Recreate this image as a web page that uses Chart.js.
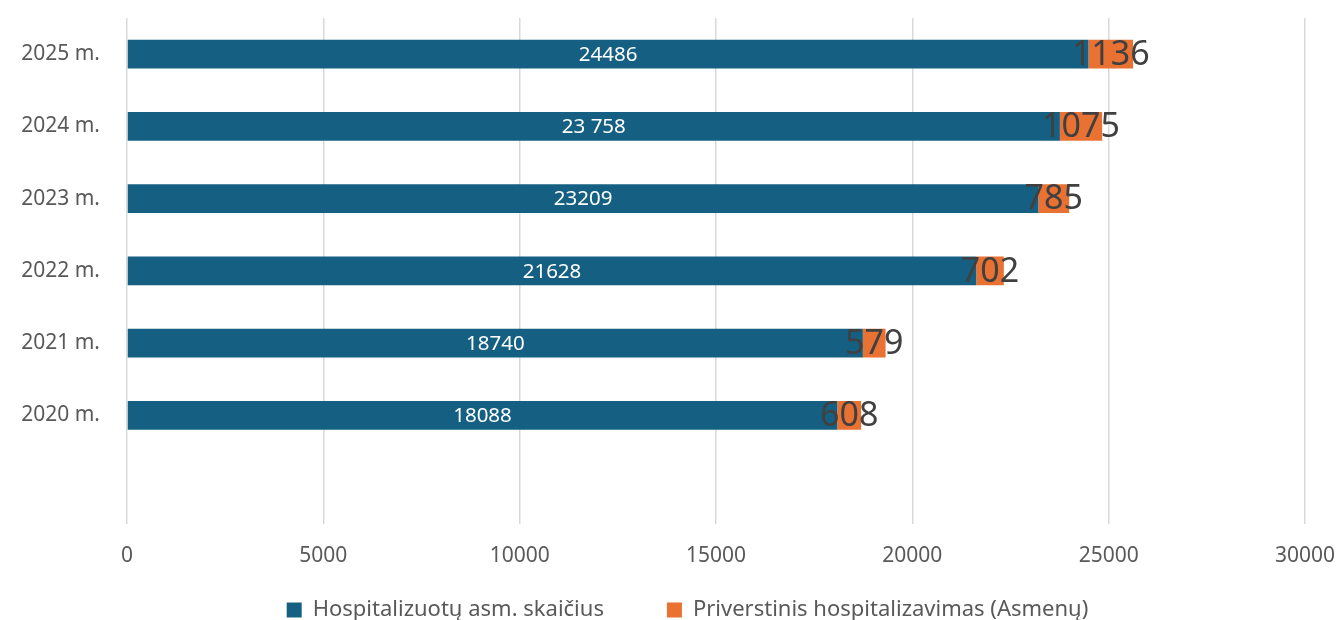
<!DOCTYPE html>
<html>
<head>
<meta charset="utf-8">
<script src="https://cdn.jsdelivr.net/npm/chart.js@4"></script>
<style>
  html, body { margin: 0; padding: 0; background: #fff; }
  #wrap { width: 1340px; height: 620px; }
</style>
</head>
<body>
<div id="wrap"><canvas id="chart" width="1340" height="620"></canvas></div>
<script>
/* duomenys */
const years = ["2025 m.", "2024 m.", "2023 m.", "2022 m.", "2021 m.", "2020 m.", ""];
const hospitalized = [24486, 23758, 23209, 21628, 18740, 18088, null];
const forced = [1136, 1075, 785, 702, 579, 608, null];
const hospLabels = ["24486", "23 758", "23209", "21628", "18740", "18088", ""];
const forcedLabels = ["1136", "1075", "785", "702", "579", "608", ""];
const xTicks = [0, 5000, 10000, 15000, 20000, 25000, 30000];

const FONT = "'Noto Sans', sans-serif";

/* reikšmių užrašai */
const valueLabels = {
  id: "valueLabels",
  afterDatasetsDraw(chart) {
    const ctx = chart.ctx;
    ctx.save();
    ctx.textAlign = "center";
    ctx.textBaseline = "middle";
    chart.data.datasets.forEach((ds, di) => {
      const meta = chart.getDatasetMeta(di);
      meta.data.forEach((bar, i) => {
        const txt = ds.valueText[i];
        if (!txt) return;
        const cx = (bar.x + bar.base) / 2;
        ctx.fillStyle = ds.valueColor;
        ctx.font = ds.valueFont;
        ctx.fillText(txt, cx, bar.y + 1);
      });
    });
    ctx.restore();
  }
};

/* legendos vieta */
const legendPlace = {
  id: "legendPlace",
  afterLayout(chart) {
    const lg = chart.legend;
    lg.top = 536;
    lg.left += 35;
    lg.right += 35;
  }
};

new Chart(document.getElementById("chart"), {
  type: "bar",
  data: {
    labels: years,
    datasets: [
      {
        label: "Hospitalizuotų asm. skaičius",
        data: hospitalized,
        backgroundColor: "#156082",
        valueText: hospLabels,
        valueColor: "#ffffff",
        valueFont: "20.5px " + FONT
      },
      {
        label: "Priverstinis hospitalizavimas (Asmenų)",
        data: forced,
        backgroundColor: "#E97132",
        valueText: forcedLabels,
        valueColor: "#404040",
        valueFont: "34px " + FONT
      }
    ]
  },
  options: {
    indexAxis: "y",
    responsive: false,
    animation: false,
    layout: { padding: { top: 18, right: 35, left: 0, bottom: 0 } },
    datasets: { bar: { categoryPercentage: 1, barPercentage: 0.4 } },
    scales: {
      x: {
        stacked: true,
        min: 0,
        max: 30000,
        afterBuildTicks(axis) { axis.ticks = xTicks.map(v => ({ value: v })); },
        afterFit(axis) {
          axis.paddingLeft = 0;
          axis.paddingRight = 0;
        },
        grid: { color: "#d9d9d9", lineWidth: 1.5, drawTicks: false },
        border: { display: false },
        ticks: {
          color: "#595959",
          font: { family: FONT, size: 21 },
          padding: 20,
          callback: v => String(v)
        }
      },
      y: {
        stacked: true,
        grid: { display: false, drawTicks: false },
        border: { display: false },
        afterFit(axis) {
          axis.width = 127;
          axis.paddingTop = 0;
          axis.paddingBottom = 0;
        },
        ticks: { color: "#595959", font: { family: FONT, size: 21 }, padding: 27 }
      }
    },
    plugins: {
      legend: {
        position: "bottom",
        maxHeight: 31,
        labels: {
          color: "#595959",
          font: { family: FONT, size: 22 },
          boxWidth: 15,
          boxHeight: 15,
          padding: 63
        }
      },
      tooltip: { enabled: false }
    }
  },
  plugins: [valueLabels, legendPlace]
});
</script>
</body>
</html>
